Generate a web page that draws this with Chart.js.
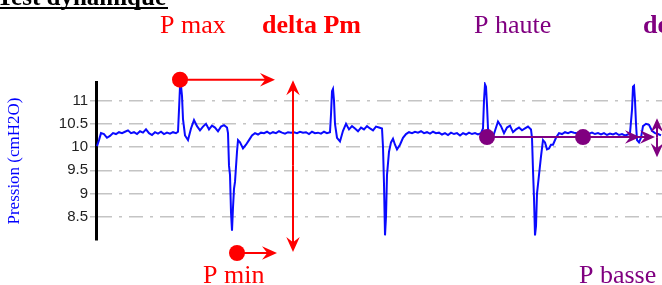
<!DOCTYPE html>
<html>
<head>
<meta charset="utf-8">
<script src="https://cdn.jsdelivr.net/npm/chart.js@4"></script>
<style>
  html, body { margin: 0; padding: 0; background: #fff; }
</style>
</head>
<body>
<canvas id="chartPression" width="662" height="285"></canvas>
<script>
// 🔥 DONNEES DU TRACE (temps en unites arbitraires, pression en cmH2O)
const temps = [
  1, 3, 5, 8, 11, 14, 17, 20, 23, 26, 29, 32, 35, 38, 41, 44, 47, 50, 53, 56,
  59, 62, 65, 68, 71, 74, 77, 80, 82, 83, 84, 85, 86, 87, 89, 92, 95, 98, 101, 104,
  107, 110, 113, 116, 119, 122, 125, 128, 131, 132, 133, 134, 135, 136, 137, 138, 139, 141, 142, 144,
  147, 150, 153, 156, 159, 162, 165, 168, 171, 174, 177, 180, 183, 186, 189, 192, 195, 198, 201, 204,
  207, 210, 213, 216, 219, 222, 225, 228, 231, 234, 235, 236, 237, 238, 239, 241, 244, 247, 250, 253,
  256, 259, 262, 265, 268, 271, 274, 277, 280, 283, 286, 287, 288, 289, 290, 291, 293, 295, 297, 299,
  301, 304, 307, 310, 313, 316, 319, 322, 325, 328, 331, 334, 337, 340, 343, 346, 349, 352, 355, 358,
  361, 364, 367, 370, 373, 376, 379, 382, 385, 387, 388, 389, 390, 391, 392, 394, 396, 399, 402, 405,
  408, 411, 414, 417, 420, 423, 426, 429, 432, 435, 436, 437, 438, 439, 440, 441, 442, 444, 445, 447,
  449, 451, 453, 455, 457, 460, 463, 466, 469, 472, 475, 478, 481, 484, 487, 490, 493, 496, 499, 502,
  505, 508, 511, 514, 517, 520, 523, 526, 529, 532, 534, 536, 537, 538, 539, 540, 541, 543, 545, 547,
  550, 553, 556, 559, 562, 565
];
const pression = [
  10.02, 10.15, 10.3, 10.28, 10.2, 10.24, 10.3, 10.28, 10.32, 10.3, 10.33, 10.36, 10.3, 10.32, 10.28, 10.34, 10.31, 10.38, 10.3, 10.26,
  10.32, 10.29, 10.33, 10.28, 10.31, 10.29, 10.32, 10.3, 10.33, 10.8, 11.3, 11.32, 11.1, 10.6, 10.25, 10.15, 10.4, 10.58, 10.45, 10.36,
  10.44, 10.5, 10.38, 10.46, 10.42, 10.34, 10.44, 10.47, 10.42, 10.3, 9.6, 9.4, 8.6, 8.2, 8.7, 9.1, 9.25, 9.9, 10.15, 10.1,
  9.97, 10.05, 10.15, 10.25, 10.3, 10.27, 10.31, 10.3, 10.33, 10.29, 10.32, 10.3, 10.34, 10.31, 10.29, 10.32, 10.31, 10.32, 10.3, 10.33,
  10.31, 10.32, 10.28, 10.33, 10.3, 10.31, 10.29, 10.33, 10.3, 10.32, 10.7, 11.2, 11.25, 11.0, 10.5, 10.2, 10.12, 10.35, 10.5, 10.38,
  10.45, 10.4, 10.34, 10.42, 10.38, 10.45, 10.4, 10.36, 10.44, 10.42, 10.4, 10.0, 9.2, 8.1, 8.5, 9.4, 9.9, 10.1, 10.18, 10.05,
  9.95, 10.05, 10.2, 10.28, 10.32, 10.3, 10.33, 10.31, 10.34, 10.3, 10.32, 10.29, 10.33, 10.3, 10.31, 10.27, 10.3, 10.26, 10.31, 10.28,
  10.3, 10.25, 10.3, 10.27, 10.31, 10.28, 10.3, 10.27, 10.3, 10.4, 11.0, 11.35, 11.3, 10.9, 10.4, 10.2, 10.15, 10.35, 10.55, 10.45,
  10.3, 10.42, 10.46, 10.32, 10.38, 10.42, 10.36, 10.4, 10.44, 10.38, 10.2, 9.5, 8.9, 8.1, 8.3, 9.0, 9.2, 9.6, 9.8, 10.15,
  10.1, 9.95, 9.97, 10.05, 10.05, 10.2, 10.3, 10.28, 10.32, 10.3, 10.33, 10.31, 10.3, 10.33, 10.3, 10.32, 10.29, 10.31, 10.28, 10.3,
  10.27, 10.3, 10.26, 10.29, 10.27, 10.3, 10.26, 10.28, 10.25, 10.27, 10.3, 10.8, 11.3, 11.32, 11.0, 10.5, 10.15, 10.1, 10.2, 10.45,
  10.5, 10.48, 10.35, 10.3, 10.28, 10.25
];
const graduations = [8.5, 9, 9.5, 10, 10.5, 11];

// marqueurs P max / P min (rouge) et P haute / P basse (violet)
const marqueursRougesX = [84, 141];
const marqueursRougesY = [11.45, 7.72];
const marqueursVioletsX = [391, 487];
const marqueursVioletsY = [10.215, 10.215];

const ROUGE = "#ff0000";
const VIOLET = "#800080";
const BLEU = "#0a0aff";

// 🔥 FLECHE
function fleche(ctx, x1, y1, x2, y2, couleur, taille) {
  const ang = Math.atan2(y2 - y1, x2 - x1);
  ctx.strokeStyle = couleur;
  ctx.fillStyle = couleur;
  ctx.lineWidth = 2;
  ctx.beginPath();
  ctx.moveTo(x1, y1);
  ctx.lineTo(x2 - Math.cos(ang) * taille * 0.6, y2 - Math.sin(ang) * taille * 0.6);
  ctx.stroke();
  ctx.save();
  ctx.translate(x2, y2);
  ctx.rotate(ang);
  ctx.beginPath();
  ctx.moveTo(0, 0);
  ctx.lineTo(-taille, -taille * 0.45);
  ctx.lineTo(-taille * 0.65, 0);
  ctx.lineTo(-taille, taille * 0.45);
  ctx.closePath();
  ctx.fill();
  ctx.restore();
}

function point(ctx, x, y, couleur) {
  ctx.fillStyle = couleur;
  ctx.beginPath();
  ctx.arc(x, y, 8, 0, Math.PI * 2);
  ctx.fill();
}

const annotations = {
  id: "annotations",
  afterDatasetsDraw(chart) {
    const ctx = chart.ctx;
    const px = (v) => chart.scales.x.getPixelForValue(v);
    const py = (v) => chart.scales.y.getPixelForValue(v);

    ctx.save();
    // rouge
    fleche(ctx, px(marqueursRougesX[0]), py(marqueursRougesY[0]), px(179), py(marqueursRougesY[0]), ROUGE, 15);
    fleche(ctx, px(marqueursRougesX[1]), py(marqueursRougesY[1]), px(181), py(marqueursRougesY[1]), ROUGE, 15);
    const xd = px(197), ymid = py(9.6);
    fleche(ctx, xd, ymid, xd, py(11.44), ROUGE, 15);
    fleche(ctx, xd, ymid, xd, py(7.74), ROUGE, 15);
    marqueursRougesX.forEach((x, i) => point(ctx, px(x), py(marqueursRougesY[i]), ROUGE));

    // violet
    fleche(ctx, px(marqueursVioletsX[0]), py(marqueursVioletsY[0]), px(544), py(marqueursVioletsY[0]), VIOLET, 15);
    fleche(ctx, px(marqueursVioletsX[1]), py(marqueursVioletsY[1]), px(559), py(marqueursVioletsY[1]), VIOLET, 15);
    const xv = px(561), yvm = py(10.2);
    fleche(ctx, xv, yvm, xv, py(10.62), VIOLET, 14);
    fleche(ctx, xv, yvm, xv, py(9.78), VIOLET, 14);
    marqueursVioletsX.forEach((x, i) => point(ctx, px(x), py(marqueursVioletsY[i]), VIOLET));

    // textes
    ctx.textBaseline = "alphabetic";
    ctx.textAlign = "left";
    ctx.fillStyle = ROUGE;
    ctx.font = "26px 'Liberation Serif'";
    ctx.fillText("P max", 160, 33);
    ctx.fillText("P min", 203, 283);
    ctx.font = "bold 26px 'Liberation Serif'";
    ctx.fillText("delta Pm", 262, 33);

    ctx.fillStyle = VIOLET;
    ctx.font = "26px 'Liberation Serif'";
    ctx.fillText("P haute", 474, 33);
    ctx.fillText("P basse", 579, 283);
    ctx.font = "bold 26px 'Liberation Serif'";
    ctx.fillText("delta Ph", 643, 33);

    // titre coupe en haut
    ctx.fillStyle = "#000";
    ctx.font = "bold 25px 'Liberation Serif'";
    ctx.textAlign = "right";
    ctx.fillText("Test dynamique", 166, 5);
    ctx.fillRect(0, 7, 168, 2);
    ctx.restore();
  },
};

const ctx1 = document.getElementById("chartPression");

const chartPression = new Chart(ctx1, {
  type: "scatter",
  data: {
    datasets: [
      {
        label: "Pression",
        data: temps.map((t, i) => ({ x: t, y: pression[i] })),
        showLine: true,
        borderColor: BLEU,
        borderWidth: 2,
        pointRadius: 0,
        tension: 0,
      },
    ],
  },
  options: {
    responsive: false,
    animation: false,
    devicePixelRatio: 1,
    layout: { padding: { top: 82, bottom: 45, left: 0, right: 0 } },
    plugins: { legend: { display: false }, tooltip: { enabled: false } },
    scales: {
      x: { type: "linear", min: 0, max: 566, display: false },
      y: {
        min: 8,
        max: 11.4,
        afterFit: (scale) => { scale.width = 96; },
        border: { display: true, color: "#000", width: 3, dash: [14, 7, 3, 7] },
        grid: { color: "#c4c4c4", lineWidth: 1.5, tickLength: 6 },
        ticks: {
          stepSize: 0.5,
          padding: 2,
          color: "#222",
          font: { family: "'Liberation Sans'", size: 15 },
          callback: (v) => (graduations.includes(v) ? String(v) : null),
        },
        title: {
          display: true,
          text: "Pression (cmH2O)",
          color: "#0000ff",
          font: { family: "'Liberation Serif'", size: 17 },
          padding: { top: 4, bottom: 0 },
        },
      },
    },
  },
  plugins: [annotations],
});
</script>
</body>
</html>
